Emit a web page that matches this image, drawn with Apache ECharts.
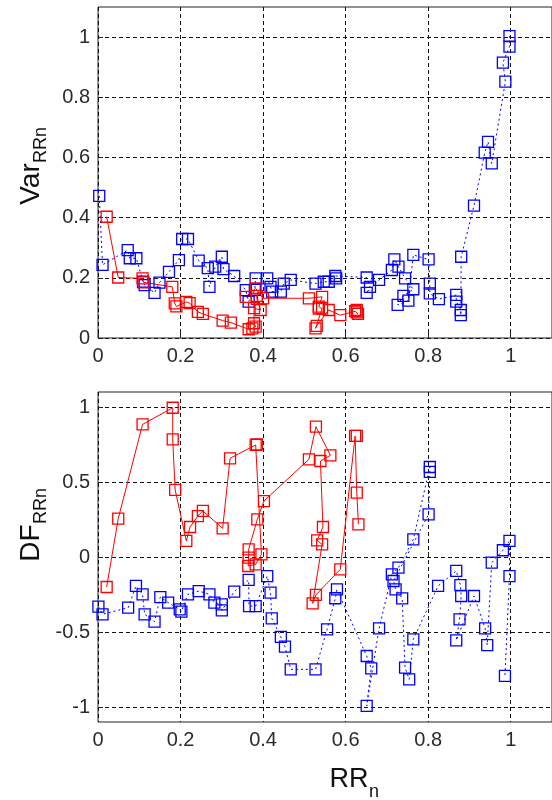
<!DOCTYPE html>
<html><head><meta charset="utf-8">
<script src="https://cdn.jsdelivr.net/npm/echarts@6/dist/echarts.min.js"></script>
<style>html,body{margin:0;padding:0;background:#fff}#c{width:552px;height:800px}</style>
</head><body><div id="c"></div>
<script>
// ---- Top panel: Var_RRn vs RR_n ----
const topBlueX = [0.003,0.011,0.072,0.077,0.093,0.109,0.113,0.137,0.149,0.172,0.196,0.204,0.218,0.244,0.266,0.27,0.284,0.3,0.304,0.33,0.358,0.365,0.38,0.382,0.41,0.418,0.422,0.443,0.45,0.467,0.527,0.547,0.559,0.577,0.575,0.651,0.659,0.651,0.681,0.712,0.718,0.728,0.744,0.764,0.74,0.726,0.752,0.764,0.801,0.804,0.804,0.826,0.868,0.868,0.879,0.879,0.88,0.911,0.937,0.945,0.954,0.987,0.981,0.997,0.997];
const topBlueY = [0.472,0.243,0.292,0.265,0.265,0.187,0.176,0.15,0.184,0.22,0.259,0.329,0.329,0.257,0.232,0.17,0.237,0.27,0.229,0.206,0.159,0.121,0.16,0.198,0.198,0.17,0.154,0.154,0.181,0.193,0.181,0.187,0.187,0.198,0.206,0.201,0.17,0.15,0.193,0.226,0.261,0.237,0.198,0.162,0.14,0.11,0.124,0.276,0.261,0.181,0.148,0.129,0.143,0.121,0.093,0.076,0.27,0.44,0.616,0.652,0.58,0.852,0.915,0.968,1.003];
const topRedX = [0.021,0.049,0.108,0.11,0.18,0.186,0.19,0.214,0.222,0.242,0.254,0.302,0.322,0.365,0.374,0.382,0.378,0.378,0.394,0.385,0.385,0.358,0.382,0.40,0.511,0.543,0.535,0.535,0.543,0.527,0.53,0.559,0.587,0.623,0.627,0.627,0.63];
const topRedY = [0.403,0.201,0.198,0.185,0.17,0.115,0.105,0.12,0.116,0.087,0.08,0.058,0.051,0.029,0.032,0.038,0.049,0.099,0.093,0.13,0.14,0.137,0.165,0.132,0.132,0.137,0.104,0.098,0.098,0.032,0.04,0.093,0.076,0.089,0.085,0.093,0.08];

// ---- Bottom panel: DF_RRn vs RR_n ----
const botBlueX = [0.001,0.011,0.073,0.092,0.108,0.113,0.137,0.151,0.17,0.198,0.202,0.218,0.244,0.27,0.282,0.3,0.3,0.33,0.365,0.366,0.382,0.41,0.418,0.421,0.443,0.453,0.467,0.527,0.555,0.575,0.579,0.651,0.662,0.651,0.681,0.712,0.728,0.764,0.804,0.804,0.801,0.716,0.721,0.737,0.744,0.754,0.764,0.824,0.868,0.878,0.88,0.876,0.868,0.911,0.938,0.943,0.954,0.981,0.997,0.997,0.986];
const botBlueY = [-0.331,-0.382,-0.338,-0.193,-0.249,-0.382,-0.431,-0.267,-0.304,-0.349,-0.364,-0.249,-0.227,-0.249,-0.304,-0.316,-0.356,-0.231,-0.153,-0.327,-0.327,-0.127,-0.238,-0.409,-0.533,-0.598,-0.749,-0.749,-0.482,-0.275,-0.216,-0.66,-0.742,-0.993,-0.476,-0.116,-0.071,0.118,0.6,0.567,0.284,-0.16,-0.216,-0.276,-0.738,-0.816,-0.549,-0.193,-0.093,-0.187,-0.26,-0.416,-0.556,-0.26,-0.476,-0.587,-0.038,0.045,0.107,-0.127,-0.793];
const botRedX = [0.021,0.049,0.108,0.181,0.181,0.187,0.214,0.223,0.242,0.254,0.302,0.32,0.382,0.385,0.396,0.382,0.364,0.365,0.365,0.386,0.402,0.511,0.528,0.563,0.539,0.545,0.531,0.543,0.52,0.528,0.587,0.623,0.627,0.627,0.631];
const botRedY = [-0.2,0.256,0.884,0.995,0.784,0.447,0.107,0.2,0.273,0.307,0.191,0.658,0.747,0.75,0.018,-0.049,-0.06,-0.004,0.051,0.251,0.373,0.651,0.869,0.678,0.64,0.2,0.111,0.084,-0.309,-0.253,-0.082,0.807,0.807,0.429,0.218];

// ---- Tick labels ----
const xTickLabels = ['0','0.2','0.4','0.6','0.8','1'];
const topYTickLabels = ['0','0.2','0.4','0.6','0.8','1'];
const botYTickLabels = ['-1','-0.5','0','0.5','1'];

function zip(xs, ys) { return xs.map((x, i) => [x, ys[i]]); }
function fmt(labels) {
  return function (v) {
    for (const l of labels) { if (Math.abs(parseFloat(l) - v) < 1e-6) return l; }
    return '';
  };
}
const FONT = 'Liberation Sans, Arial, sans-serif';
const gridLine = { show: true, lineStyle: { color: '#111', width: 1, type: [4, 3] } };
const labelStyle = { color: '#2a2a2a', fontSize: 20, fontFamily: FONT };

function axis(gi, min, max, labels) {
  const vals = labels.map(Number);
  return {
    type: 'value', gridIndex: gi, min: min, max: max,
    axisLine: { show: false },
    axisTick: { show: true, inside: true, length: 5, customValues: vals, lineStyle: { color: '#222' } },
    axisLabel: Object.assign({ margin: 8, customValues: vals, formatter: fmt(labels) }, labelStyle),
    splitLine: gridLine
  };
}
function series(xi, data, color, dotted) {
  return {
    type: 'line', xAxisIndex: xi, yAxisIndex: xi, data: data,
    symbol: 'rect', symbolSize: 11, showSymbol: true, silent: true,
    lineStyle: { color: color, width: 1, type: dotted ? [2, 3] : 'solid' },
    itemStyle: { color: 'rgba(0,0,0,0)', borderColor: color, borderWidth: 1.3 },
    emphasis: { disabled: true }, animation: false
  };
}

const chart = echarts.init(document.getElementById('c'), null, { renderer: 'canvas' });
chart.setOption({
  backgroundColor: '#fff',
  animation: false,
  grid: [
    { left: 98, top: 7, width: 456.5, height: 331, show: true, borderColor: '#222', borderWidth: 1, backgroundColor: 'transparent' },
    { left: 98, top: 392, width: 456.5, height: 330, show: true, borderColor: '#222', borderWidth: 1, backgroundColor: 'transparent' }
  ],
  xAxis: [axis(0, 0, 1.1, xTickLabels), axis(1, 0, 1.1, xTickLabels)],
  yAxis: [axis(0, 0, 1.1, topYTickLabels), axis(1, -1.1, 1.1, botYTickLabels)],
  series: [
    series(0, zip(topBlueX, topBlueY), '#0000ff', true),
    series(0, zip(topRedX, topRedY), '#ff0000', false),
    series(1, zip(botBlueX, botBlueY), '#0000ff', true),
    series(1, zip(botRedX, botRedY), '#ff0000', false)
  ],
  graphic: [
    { type: 'text', x: 31, y: 184, rotation: Math.PI / 2, style: { text: 'Var', fontSize: 28, fontFamily: FONT, fill: '#111', align: 'center', verticalAlign: 'middle' } },
    { type: 'text', x: 41, y: 145, rotation: Math.PI / 2, style: { text: 'RRn', fontSize: 18, fontFamily: FONT, fill: '#111', align: 'center', verticalAlign: 'middle' } },
    { type: 'text', x: 31, y: 543, rotation: Math.PI / 2, style: { text: 'DF', fontSize: 28, fontFamily: FONT, fill: '#111', align: 'center', verticalAlign: 'middle' } },
    { type: 'text', x: 41, y: 506, rotation: Math.PI / 2, style: { text: 'RRn', fontSize: 18, fontFamily: FONT, fill: '#111', align: 'center', verticalAlign: 'middle' } },
    { type: 'text', x: 349, y: 780, style: { text: 'RR', fontSize: 27, fontFamily: FONT, fill: '#111', align: 'center', verticalAlign: 'middle' } },
    { type: 'text', x: 374, y: 792, style: { text: 'n', fontSize: 18, fontFamily: FONT, fill: '#111', align: 'center', verticalAlign: 'middle' } }
  ]
});
</script>
</body></html>
